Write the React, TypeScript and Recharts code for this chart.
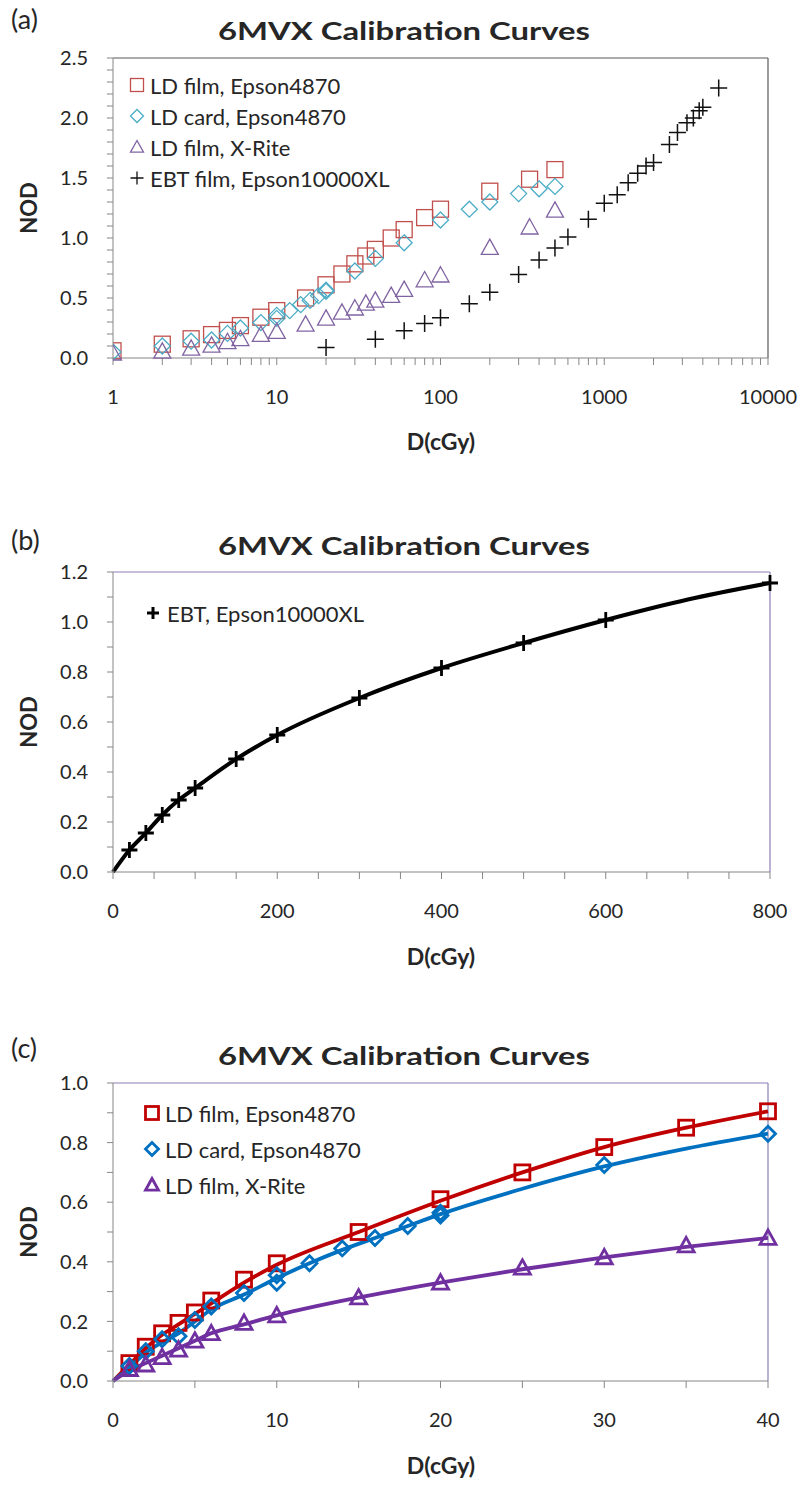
import {
  ComposedChart,
  Line,
  Scatter,
  XAxis,
  YAxis,
  ReferenceLine,
} from "recharts";

// ── Data ──────────────────────────────────────────────────────────────────────

const LD_FILM_DOSE = [1, 2, 3, 4, 5, 6, 8, 10, 15, 20, 25, 30, 35, 40, 50, 60, 80, 100, 200, 350, 500];
const LD_FILM_NOD = [0.06, 0.115, 0.16, 0.195, 0.23, 0.27, 0.34, 0.395, 0.5, 0.61, 0.7, 0.785, 0.85, 0.905, 1.0, 1.07, 1.17, 1.24, 1.39, 1.49, 1.57];

const LD_CARD_DOSE = [1, 2, 3, 4, 5, 6, 8, 10, 10, 12, 14, 16, 18, 20, 20, 30, 40, 60, 100, 150, 200, 300, 400, 500];
const LD_CARD_NOD = [0.05, 0.1, 0.14, 0.15, 0.205, 0.25, 0.295, 0.355, 0.33, 0.395, 0.445, 0.48, 0.52, 0.565, 0.555, 0.725, 0.83, 0.96, 1.15, 1.24, 1.3, 1.37, 1.41, 1.43];

const XRITE_DOSE = [1, 2, 3, 4, 5, 6, 8, 10, 15, 20, 25, 30, 35, 40, 50, 60, 80, 100, 200, 350, 500];
const XRITE_NOD = [0.04, 0.055, 0.08, 0.105, 0.135, 0.16, 0.195, 0.22, 0.28, 0.33, 0.38, 0.415, 0.455, 0.48, 0.52, 0.57, 0.65, 0.69, 0.92, 1.09, 1.23];

const EBT_DOSE = [20, 40, 60, 80, 100, 150, 200, 300, 400, 500, 600, 800, 1000, 1200, 1400, 1600, 1800, 2000, 2500, 2800, 3200, 3500, 3800, 4000, 5000];
const EBT_NOD = [0.088, 0.156, 0.228, 0.288, 0.336, 0.452, 0.548, 0.696, 0.816, 0.916, 1.008, 1.156, 1.29, 1.36, 1.46, 1.54, 1.6, 1.63, 1.78, 1.88, 1.96, 2.0, 2.06, 2.09, 2.25];

// fitted curves drawn in panels (b) and (c)
const EBT_FIT_DOSE = [0, 20, 40, 60, 80, 100, 150, 200, 300, 400, 500, 600, 700, 800];
const EBT_FIT_NOD = [0, 0.088, 0.156, 0.228, 0.288, 0.336, 0.452, 0.548, 0.696, 0.816, 0.916, 1.008, 1.09, 1.156];

const FILM_FIT_DOSE = [0, 1, 2, 3, 4, 5, 6, 8, 10, 15, 20, 25, 30, 35, 40];
const FILM_FIT_NOD = [0, 0.055, 0.11, 0.155, 0.19, 0.225, 0.26, 0.33, 0.39, 0.5, 0.605, 0.7, 0.785, 0.85, 0.905];
const CARD_FIT_DOSE = [0, 1, 2, 3, 4, 5, 6, 8, 10, 12, 14, 16, 18, 20, 25, 30, 35, 40];
const CARD_FIT_NOD = [0, 0.045, 0.095, 0.13, 0.16, 0.2, 0.24, 0.29, 0.345, 0.395, 0.44, 0.48, 0.52, 0.56, 0.645, 0.72, 0.78, 0.83];
const XRITE_FIT_DOSE = [0, 1, 2, 3, 4, 5, 6, 8, 10, 15, 20, 25, 30, 35, 40];
const XRITE_FIT_NOD = [0, 0.035, 0.06, 0.085, 0.11, 0.135, 0.16, 0.19, 0.22, 0.28, 0.33, 0.375, 0.415, 0.45, 0.48];

// ── Ticks ─────────────────────────────────────────────────────────────────────

const LOG_TICKS = [
  1, 2, 3, 4, 5, 6, 7, 8, 9,
  10, 20, 30, 40, 50, 60, 70, 80, 90,
  100, 200, 300, 400, 500, 600, 700, 800, 900,
  1000, 2000, 3000, 4000, 5000, 6000, 7000, 8000, 9000,
  10000,
];
const LOG_LABELS = [1, 10, 100, 1000, 10000];
const A_Y_TICKS = [0, 0.1, 0.2, 0.3, 0.4, 0.5, 0.6, 0.7, 0.8, 0.9, 1.0, 1.1, 1.2, 1.3, 1.4, 1.5, 1.6, 1.7, 1.8, 1.9, 2.0, 2.1, 2.2, 2.3, 2.4, 2.5];
const B_X_TICKS = [0, 50, 100, 150, 200, 250, 300, 350, 400, 450, 500, 550, 600, 650, 700, 750, 800];
const B_Y_TICKS = [0, 0.1, 0.2, 0.3, 0.4, 0.5, 0.6, 0.7, 0.8, 0.9, 1.0, 1.1, 1.2];
const C_X_TICKS = [0, 5, 10, 15, 20, 25, 30, 35, 40];
const C_Y_TICKS = [0, 0.1, 0.2, 0.3, 0.4, 0.5, 0.6, 0.7, 0.8, 0.9, 1.0];

const TITLE = "6MVX Calibration Curves";
const A_LEGEND = ["LD film, Epson4870", "LD card, Epson4870", "LD film, X-Rite", "EBT film, Epson10000XL"];
const B_LEGEND = ["EBT, Epson10000XL"];
const C_LEGEND = ["LD film, Epson4870", "LD card, Epson4870", "LD film, X-Rite"];

// ── Styles ────────────────────────────────────────────────────────────────────

const FONT = "Lato, 'Open Sans', sans-serif";
const AXIS_GRAY = "#868686";
const FRAME_PURPLE = "#8D7DB8";
const TEXT = "#262626";

const A_COLORS = ["#C0504D", "#4BACC6", "#8064A2", "#111111"];
const C_COLORS = ["#C00000", "#0070C0", "#7030A0"];

const zip = (xs: number[], ys: number[]) => xs.map((x, i) => ({ x, y: ys[i] }));
const upTo = (xs: number[], ys: number[], max: number) =>
  zip(xs, ys).filter((p) => p.x <= max);

type Kind = "square" | "diamond" | "triangle" | "plus";

function Marker({ kind, cx, cy, size, color, sw }: { kind: Kind; cx: number; cy: number; size: number; color: string; sw: number }) {
  if (cx == null || cy == null) return null;
  const h = size / 2;
  if (kind === "square")
    return <rect x={cx - h} y={cy - h} width={size} height={size} fill="none" stroke={color} strokeWidth={sw} />;
  if (kind === "diamond")
    return (
      <polygon
        points={`${cx},${cy - h} ${cx + h},${cy} ${cx},${cy + h} ${cx - h},${cy}`}
        fill="none"
        stroke={color}
        strokeWidth={sw}
      />
    );
  if (kind === "triangle")
    return (
      <polygon
        points={`${cx},${cy - h} ${cx + h},${cy + h * 0.8} ${cx - h},${cy + h * 0.8}`}
        fill="none"
        stroke={color}
        strokeWidth={sw}
      />
    );
  return <path d={`M${cx - h},${cy}H${cx + h}M${cx},${cy - h}V${cy + h}`} stroke={color} strokeWidth={sw} fill="none" />;
}

const shapeOf = (kind: Kind, size: number, color: string, sw: number) => (p: any) =>
  <Marker kind={kind} cx={p.cx} cy={p.cy} size={size} color={color} sw={sw} />;

const tickStyle = { fontSize: 20, fill: TEXT, fontFamily: FONT };

// ── Panel (a): log scale ──────────────────────────────────────────────────────

function PanelA() {
  return (
    <ComposedChart width={799} height={470} margin={{ top: 58, right: 31, left: 53, bottom: 52 }}>
      <XAxis
        type="number"
        dataKey="x"
        scale="log"
        domain={[1, 10000]}
        ticks={LOG_TICKS}
        interval={0}
        allowDataOverflow
        height={60}
        stroke={AXIS_GRAY}
        tickSize={7}
        tickMargin={25}
        tick={tickStyle}
        tickFormatter={(v: number) => (LOG_LABELS.includes(v) ? String(v) : "")}
      />
      <YAxis
        type="number"
        dataKey="y"
        domain={[0, 2.5]}
        ticks={A_Y_TICKS}
        interval={0}
        width={60}
        stroke={AXIS_GRAY}
        tickSize={6}
        tickMargin={19}
        tick={tickStyle}
        tickFormatter={(v: number) => (Math.round(v * 10) % 5 === 0 ? v.toFixed(1) : "")}
      />
      <ReferenceLine y={2.5} stroke="#595959" strokeWidth={1.2} />
      <ReferenceLine x={10000} stroke="#595959" strokeWidth={1.2} />
      <Scatter data={zip(LD_FILM_DOSE, LD_FILM_NOD)} isAnimationActive={false} shape={shapeOf("square", 16, A_COLORS[0], 1.3)} />
      <Scatter data={zip(LD_CARD_DOSE, LD_CARD_NOD)} isAnimationActive={false} shape={shapeOf("diamond", 16, A_COLORS[1], 1.3)} />
      <Scatter data={zip(XRITE_DOSE, XRITE_NOD)} isAnimationActive={false} shape={shapeOf("triangle", 17, A_COLORS[2], 1.3)} />
      <Scatter data={zip(EBT_DOSE, EBT_NOD)} isAnimationActive={false} shape={shapeOf("plus", 17, A_COLORS[3], 1.5)} />
    </ComposedChart>
  );
}

// ── Panel (b): EBT, linear ────────────────────────────────────────────────────

function PanelB() {
  return (
    <ComposedChart width={799} height={490} margin={{ top: 102, right: 29, left: 53, bottom: 28 }}>
      <XAxis
        type="number"
        dataKey="x"
        domain={[0, 800]}
        ticks={B_X_TICKS}
        interval={0}
        height={60}
        stroke={AXIS_GRAY}
        tickSize={7}
        tickMargin={25}
        tick={tickStyle}
        tickFormatter={(v: number) => (v % 200 === 0 ? String(v) : "")}
      />
      <YAxis
        type="number"
        dataKey="y"
        domain={[0, 1.2]}
        ticks={B_Y_TICKS}
        interval={0}
        width={60}
        stroke={AXIS_GRAY}
        tickSize={6}
        tickMargin={19}
        tick={tickStyle}
        tickFormatter={(v: number) => (Math.round(v * 10) % 2 === 0 ? v.toFixed(1) : "")}
      />
      <ReferenceLine y={1.2} stroke={FRAME_PURPLE} strokeWidth={1.2} />
      <ReferenceLine x={800} stroke={FRAME_PURPLE} strokeWidth={1.2} />
      <Line
        data={zip(EBT_FIT_DOSE, EBT_FIT_NOD)}
        dataKey="y"
        type="monotone"
        stroke="#000"
        strokeWidth={4}
        dot={false}
        isAnimationActive={false}
      />
      <Scatter data={upTo(EBT_DOSE, EBT_NOD, 800)} isAnimationActive={false} shape={shapeOf("plus", 16, "#000", 2.8)} />
    </ComposedChart>
  );
}

// ── Panel (c): LD, linear 0–40 ────────────────────────────────────────────────

function PanelC() {
  const fits = [
    zip(FILM_FIT_DOSE, FILM_FIT_NOD),
    zip(CARD_FIT_DOSE, CARD_FIT_NOD),
    zip(XRITE_FIT_DOSE, XRITE_FIT_NOD),
  ];
  return (
    <ComposedChart width={799} height={528} margin={{ top: 123, right: 31, left: 53, bottom: 47 }}>
      <XAxis
        type="number"
        dataKey="x"
        domain={[0, 40]}
        ticks={C_X_TICKS}
        interval={0}
        height={60}
        stroke={AXIS_GRAY}
        tickSize={7}
        tickMargin={25}
        tick={tickStyle}
        tickFormatter={(v: number) => (v % 10 === 0 ? String(v) : "")}
      />
      <YAxis
        type="number"
        dataKey="y"
        domain={[0, 1]}
        ticks={C_Y_TICKS}
        interval={0}
        width={60}
        stroke={AXIS_GRAY}
        tickSize={6}
        tickMargin={19}
        tick={tickStyle}
        tickFormatter={(v: number) => (Math.round(v * 10) % 2 === 0 ? v.toFixed(1) : "")}
      />
      <ReferenceLine y={1} stroke={FRAME_PURPLE} strokeWidth={1.2} />
      <ReferenceLine x={40} stroke={FRAME_PURPLE} strokeWidth={1.2} />
      {fits.map((d, i) => (
        <Line
          key={i}
          data={d}
          dataKey="y"
          type="monotone"
          stroke={C_COLORS[i]}
          strokeWidth={3.8}
          dot={false}
          isAnimationActive={false}
        />
      ))}
      <Scatter data={upTo(LD_FILM_DOSE, LD_FILM_NOD, 40)} isAnimationActive={false} shape={shapeOf("square", 15, C_COLORS[0], 2.8)} />
      <Scatter data={upTo(LD_CARD_DOSE, LD_CARD_NOD, 40)} isAnimationActive={false} shape={shapeOf("diamond", 15, C_COLORS[1], 2.8)} />
      <Scatter data={upTo(XRITE_DOSE, XRITE_NOD, 40)} isAnimationActive={false} shape={shapeOf("triangle", 16, C_COLORS[2], 2.8)} />
    </ComposedChart>
  );
}

// ── Text overlay: panel letters, titles, axis titles, legends ─────────────────

function PanelText({ letter, letterY, titleY, plotTop, plotBottom, labelY }: any) {
  const mid = (plotTop + plotBottom) / 2;
  return (
    <g fontFamily={FONT} fill={TEXT}>
      <text x={11} y={letterY} fontSize={27}>{letter}</text>
      <text x={218} y={titleY} fontSize={25} fontWeight={700} textLength={372} lengthAdjust="spacingAndGlyphs">
        {TITLE}
      </text>
      <text x={28} y={mid} fontSize={22} fontWeight={700} textAnchor="middle" dominantBaseline="central" transform={`rotate(-90 28 ${mid})`}>
        NOD
      </text>
      <text x={441} y={labelY} fontSize={23} fontWeight={700} textAnchor="middle">
        D(cGy)
      </text>
    </g>
  );
}

function LegendBlock({ items, kinds, colors, x, y, gap, size, sw, textX }: any) {
  return (
    <g fontFamily={FONT} fill={TEXT}>
      {items.map((label: string, i: number) => (
        <g key={label}>
          <Marker kind={kinds[i]} cx={x} cy={y + i * gap} size={size} color={colors[i]} sw={sw} />
          <text x={textX} y={y + i * gap} fontSize={22} dominantBaseline="central">
            {label}
          </text>
        </g>
      ))}
    </g>
  );
}

export default function App() {
  return (
    <div style={{ position: "absolute", left: 0, top: 0, width: 799, height: 1488, background: "#fff" }}>
      <div style={{ position: "absolute", left: 0, top: 0 }}>
        <PanelA />
      </div>
      <div style={{ position: "absolute", left: 0, top: 470 }}>
        <PanelB />
      </div>
      <div style={{ position: "absolute", left: 0, top: 960 }}>
        <PanelC />
      </div>
      <svg width={799} height={1488} style={{ position: "absolute", left: 0, top: 0, pointerEvents: "none" }}>
        <PanelText letter="(a)" letterY={29} titleY={40} plotTop={58} plotBottom={358} labelY={450} />
        <PanelText letter="(b)" letterY={550} titleY={555} plotTop={572} plotBottom={872} labelY={965} />
        <PanelText letter="(c)" letterY={1058} titleY={1065} plotTop={1083} plotBottom={1381} labelY={1474} />
        <LegendBlock
          items={A_LEGEND}
          kinds={["square", "diamond", "triangle", "plus"]}
          colors={A_COLORS}
          x={137}
          y={85}
          gap={31}
          size={13}
          sw={1.3}
          textX={150}
        />
        <LegendBlock items={B_LEGEND} kinds={["plus"]} colors={["#000"]} x={153} y={613} gap={0} size={12} sw={3} textX={167} />
        <LegendBlock
          items={C_LEGEND}
          kinds={["square", "diamond", "triangle"]}
          colors={C_COLORS}
          x={152}
          y={1113}
          gap={36}
          size={13}
          sw={2.8}
          textX={165}
        />
      </svg>
    </div>
  );
}
